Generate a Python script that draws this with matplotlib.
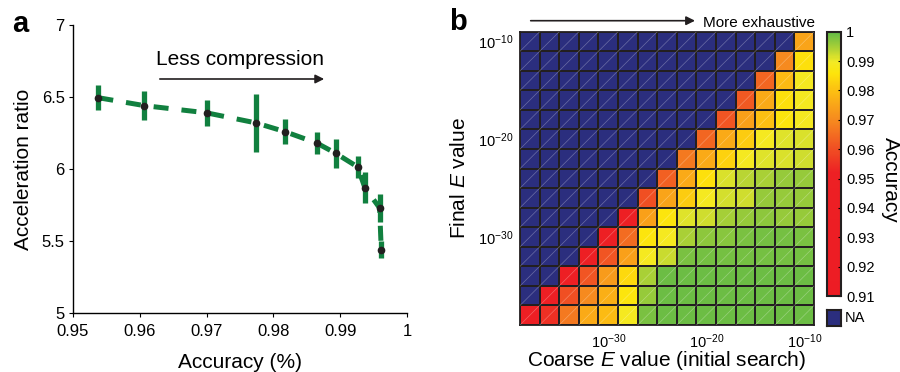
import numpy as np
import matplotlib
matplotlib.use('Agg')
import matplotlib.pyplot as plt
from matplotlib.colors import LinearSegmentedColormap
from matplotlib.collections import LineCollection

plt.rcParams['font.family'] = ['Liberation Sans', 'DejaVu Sans']
plt.rcParams['mathtext.fontset'] = 'custom'
plt.rcParams['mathtext.rm'] = 'Liberation Sans'
plt.rcParams['mathtext.it'] = 'Liberation Sans:italic'
plt.rcParams['mathtext.bf'] = 'Liberation Sans:bold'

# ---------------- Panel a data ----------------
accuracy = [0.9538, 0.9607, 0.9700, 0.9774, 0.9817, 0.9865, 0.9893, 0.9926, 0.9937, 0.9959, 0.99615]
accel_ratio = [6.495, 6.44, 6.39, 6.32, 6.26, 6.18, 6.11, 6.015, 5.87, 5.73, 5.44]
accel_err = [0.085, 0.10, 0.09, 0.20, 0.087, 0.075, 0.10, 0.075, 0.107, 0.097, 0.06]
a_xticks = [0.95, 0.96, 0.97, 0.98, 0.99, 1.0]
a_xticklabels = ['0.95', '0.96', '0.97', '0.98', '0.99', '1']
a_yticks = [5, 5.5, 6, 6.5, 7]
a_yticklabels = ['5', '5.5', '6', '6.5', '7']

# ---------------- Panel b data ----------------
final_e_exp = [-10, -12, -14, -16, -18, -20, -22, -24, -26, -28, -30, -32, -34, -36, -38]   # rows, top to bottom
coarse_e_exp = [-38, -36, -34, -32, -30, -28, -26, -24, -22, -20, -18, -16, -14, -12, -10]  # columns, left to right
# valid (non-NA) accuracies of each row, right-aligned (left cells are NA)
acc_rows = [
    [0.975],
    [0.970, 0.985],
    [0.964, 0.979, 0.989],
    [0.962, 0.976, 0.985, 0.989],
    [0.961, 0.974, 0.980, 0.986, 0.989],
    [0.964, 0.976, 0.982, 0.989, 0.991, 0.9915],
    [0.967, 0.976, 0.983, 0.989, 0.991, 0.9913, 0.992],
    [0.963, 0.976, 0.985, 0.9915, 0.9935, 0.9945, 0.996, 0.996],
    [0.960, 0.975, 0.982, 0.989, 0.9918, 0.992, 0.996, 0.996, 0.996],
    [0.940, 0.974, 0.986, 0.991, 0.992, 0.9948, 0.996, 0.9965, 0.996, 0.996],
    [0.940, 0.965, 0.986, 0.989, 0.9945, 0.9968, 0.997, 0.998, 0.9985, 0.9985, 0.998],
    [0.940, 0.961, 0.974, 0.989, 0.9925, 0.998, 0.9985, 0.9985, 0.9985, 0.9985, 0.9985, 0.9985],
    [0.940, 0.961, 0.973, 0.984, 0.9945, 0.999, 0.999, 0.999, 0.999, 0.999, 0.999, 0.999, 0.999],
    [0.940, 0.960, 0.970, 0.977, 0.986, 0.996, 0.999, 0.999, 0.999, 0.999, 0.999, 0.999, 0.999, 0.999],
    [0.940, 0.955, 0.967, 0.976, 0.979, 0.989, 0.998, 0.999, 0.999, 0.999, 0.999, 0.999, 0.999, 0.999, 0.999],
]
b_tick_exps = [-30, -20, -10]
cb_ticks = [0.91, 0.92, 0.93, 0.94, 0.95, 0.96, 0.97, 0.98, 0.99, 1.0]
cb_ticklabels = ['0.91', '0.92', '0.93', '0.94', '0.95', '0.96', '0.97', '0.98', '0.99', '1']

GREEN = '#11803f'
NAVY = '#2b2e7e'
EDGE = '#231f20'

fig = plt.figure(figsize=(9, 3.72), dpi=100)

# ================= Panel a =================
ax = fig.add_axes([0.0811, 0.1586, 0.3711, 0.7742])
ax.plot(accuracy, accel_ratio, color=GREEN, lw=3.6, linestyle=(0, (3, 2.6)),
        dash_capstyle='butt', zorder=2)
ax.errorbar(accuracy, accel_ratio, yerr=accel_err, fmt='none', ecolor=GREEN,
            elinewidth=3.8, capsize=0, zorder=3)
ax.plot(accuracy, accel_ratio, 'o', color='#231f20', ms=4.5, zorder=4)
ax.set_xlim(0.95, 1.0)
ax.set_ylim(5, 7)
ax.set_xticks(a_xticks)
ax.set_xticklabels(a_xticklabels)
ax.set_yticks(a_yticks)
ax.set_yticklabels(a_yticklabels)
for s in ['top', 'right']:
    ax.spines[s].set_visible(False)
for s in ['left', 'bottom']:
    ax.spines[s].set_linewidth(1.0)
ax.tick_params(axis='x', direction='out', length=3, width=0.8, labelsize=12, pad=5)
ax.tick_params(axis='y', direction='out', length=3, width=0.8, labelsize=12, pad=3)
ax.set_ylabel('Acceleration ratio', fontsize=15, labelpad=6)
ax.set_xlabel('Accuracy (%)', fontsize=15)
ax.xaxis.set_label_coords(0.5, -(353 - 313) / 288.0)
ax.annotate('', xy=(0.9876, 6.625), xytext=(0.9630, 6.625),
            arrowprops=dict(arrowstyle='-|>', color='#231f20', lw=1.2,
                            mutation_scale=13, shrinkA=0, shrinkB=0))
ax.text(0.975, 6.722, 'Less compression', fontsize=15, ha='center', va='baseline')
fig.text(20 / 900, 1 - 32 / 372, 'a', fontsize=21, fontweight='bold', ha='center', va='baseline')

# ================= Panel b =================
n_rows = len(final_e_exp)
n_cols = len(coarse_e_exp)
M = np.full((n_rows, n_cols), np.nan)
for i, row in enumerate(acc_rows):
    M[i, n_cols - len(row):] = row
Mm = np.ma.masked_invalid(M)

cmap = LinearSegmentedColormap.from_list('acc', [
    (0.0, '#ed1c24'),
    ((0.952 - 0.91) / 0.09, '#ed2024'),
    ((0.960 - 0.91) / 0.09, '#f04e23'),
    ((0.970 - 0.91) / 0.09, '#f68a1f'),
    ((0.980 - 0.91) / 0.09, '#fcbf12'),
    ((0.986 - 0.91) / 0.09, '#fde50b'),
    ((0.990 - 0.91) / 0.09, '#f2ea26'),
    ((0.994 - 0.91) / 0.09, '#b3d334'),
    (1.0, '#62ba46'),
])
cmap.set_bad(NAVY)

bx = fig.add_axes([0.5778, 0.1263, 0.3267, 0.7884])
mesh = bx.pcolormesh(np.arange(n_cols + 1), np.arange(n_rows + 1), Mm, cmap=cmap,
                     vmin=0.91, vmax=1.0, edgecolors=EDGE, linewidth=1.3)
# faint diagonal rendering lines in each cell
segs = [[(j, i + 1), (j + 1, i)] for i in range(n_rows) for j in range(n_cols)]
bx.add_collection(LineCollection(segs, colors='white', linewidths=0.5, alpha=0.3, zorder=3))
bx.set_xlim(0, n_cols)
bx.set_ylim(n_rows, 0)
bx.set_xticks([coarse_e_exp.index(e) + 0.5 for e in b_tick_exps])
bx.set_xticklabels([r'$10^{%d}$' % e for e in b_tick_exps])
bx.set_yticks([final_e_exp.index(e) + 0.5 for e in b_tick_exps])
bx.set_yticklabels([r'$10^{%d}$' % e for e in b_tick_exps])
bx.tick_params(length=0, labelsize=10.5, pad=5)
for s in bx.spines.values():
    s.set_linewidth(1.3)
    s.set_color(EDGE)
bx.set_xlabel(r'Coarse $\mathit{E}$ value (initial search)', fontsize=15)
bx.xaxis.set_label_coords(0.5, -(349 - 325) / 293.3)
bx.set_ylabel(r'Final $\mathit{E}$ value', fontsize=15, labelpad=6)
fig.text(458 / 900, 1 - 30 / 372, 'b', fontsize=21, fontweight='bold', ha='center', va='baseline')
fig.patches.append(matplotlib.patches.FancyArrowPatch(
    (530.7 / 900, 1 - 20.7 / 372), (695 / 900, 1 - 20.7 / 372), transform=fig.transFigure,
    arrowstyle='-|>', mutation_scale=13, color='#231f20', lw=1.2, shrinkA=0, shrinkB=0))
fig.text(703 / 900, 1 - 27 / 372, 'More exhaustive', fontsize=11, ha='left', va='baseline')

# colorbar
cax = fig.add_axes([0.9192, 0.2043, 0.0149, 0.7105])
cb = fig.colorbar(mesh, cax=cax, ticks=cb_ticks)
cb.ax.set_yticklabels(cb_ticklabels)
cb.outline.set_linewidth(1.5)
cb.outline.set_edgecolor(EDGE)
cax.tick_params(direction='in', length=2.5, width=0.8, labelsize=10.5, pad=4)
fig.text(890 / 900, 1 - 180 / 372, 'Accuracy', fontsize=15, rotation=270, ha='center', va='center')

# NA legend box
nax = fig.add_axes([0.9189, 0.1237, 0.0156, 0.043])
nax.set_facecolor(NAVY)
nax.set_xticks([])
nax.set_yticks([])
for s in nax.spines.values():
    s.set_linewidth(1.5)
    s.set_color(EDGE)
fig.text(845 / 900, 1 - 318 / 372, 'NA', fontsize=10.5, ha='left', va='center')

fig.savefig('out.png', dpi=100)
